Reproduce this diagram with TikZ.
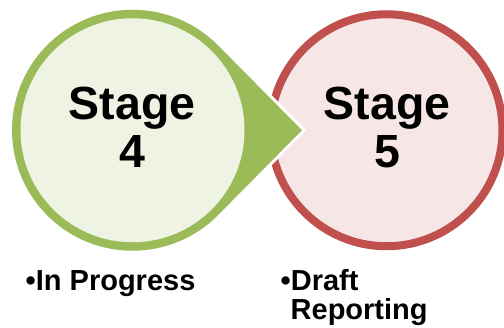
\documentclass[tikz,border=0pt]{standalone}
\usepackage{fontspec}
\setmainfont{Liberation Sans}
\definecolor{gring}{HTML}{9BBB59}
\definecolor{gfill}{HTML}{EEF3E3}
\definecolor{rring}{HTML}{C0504D}
\definecolor{rfill}{HTML}{F7E6E6}
\tikzset{
  bigtxt/.style={inner sep=0pt, anchor=base, font=\fontsize{46.5}{48}\selectfont\bfseries},
  smalltxt/.style={inner sep=0pt, anchor=base west, font=\fontsize{29}{29}\selectfont\bfseries},
}
\begin{document}
\begin{tikzpicture}[x=1pt,y=-1pt]
\useasboundingbox (0,0) rectangle (504,328);
% red circle (stage 5)
\node[circle, draw=rring, fill=rfill, line width=8pt, minimum size=232pt, inner sep=0pt] (c5) at (386.5,130.25) {};
% green teardrop (stage 4)
\coordinate (tip) at (302,130.25);
\draw[white, line width=6pt, line join=miter]
  (tip) -- ([shift={(132.5,130.25)}]44.7:120.5) arc[start angle=44.7, end angle=315.3, radius=120.5] -- cycle;
\fill[gring]
  (tip) -- ([shift={(132.5,130.25)}]44.7:120.5) arc[start angle=44.7, end angle=315.3, radius=120.5] -- cycle;
\node[circle, fill=gfill, minimum size=224pt, inner sep=0pt] (c4) at (132.5,130.25) {};
% texts
\node[bigtxt] (s4a) at (132,120) {Stage};
\node[bigtxt] (s4b) at (132,168) {4};
\node[bigtxt] (s5a) at (387,120) {Stage};
\node[bigtxt] (s5b) at (387,168) {5};
\node[smalltxt] (l4) at (25.5,291) {•In Progress};
\node[smalltxt] (l5a) at (280.5,291) {•Draft};
\node[smalltxt] (l5b) at (290.5,320) {Reporting};
\end{tikzpicture}
\end{document}
